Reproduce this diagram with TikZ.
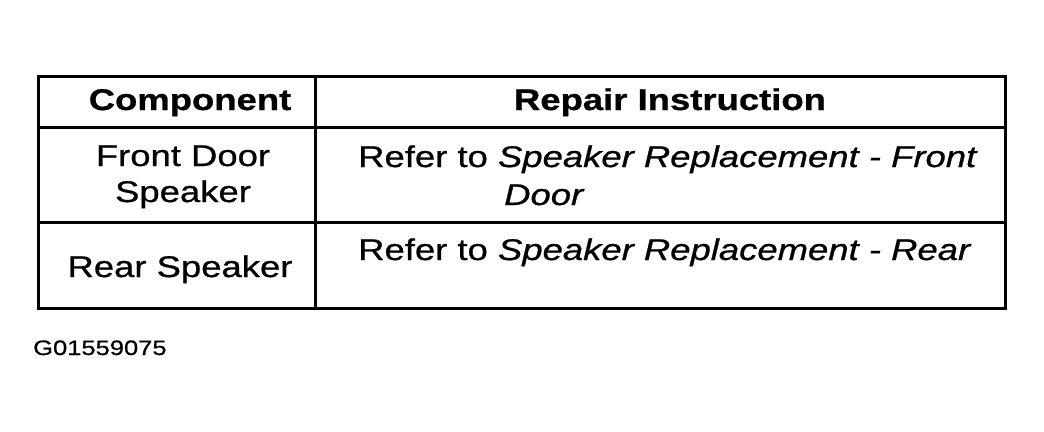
\documentclass[tikz,border=0pt]{standalone}
\usepackage{fontspec}
\setmainfont{Liberation Sans}[FakeStretch=1.22,FakeBold=0.8]
\usetikzlibrary{positioning}

\begin{document}
\begin{tikzpicture}[x=1bp,y=-1bp,
  cell/.style={inner sep=0pt,anchor=base,font=\fontsize{30}{36}\selectfont},
  head/.style={cell,font=\fontsize{30}{36}\selectfont\bfseries},
  rule/.style={line width=3bp}]
  \useasboundingbox (0,0) rectangle (1044,431);

  % table frame
  \draw[rule] (38,76) rectangle (1005,308);
  \draw[rule] (315,76) -- (315,308);
  \draw[rule] (38,127) -- (1005,127);
  \draw[rule] (38,222) -- (1005,222);

  % header row
  \node[head] (comp) at (190,110) {Component};
  \node[head] (repair) at (670,110) {Repair Instruction};

  % front door row
  \node[cell] (front) at (183,166) {Front Door};
  \node[cell] (frontb) at (183,202) {Speaker};
  \node[cell,anchor=base west] (fronttxt) at (358,167) {Refer to \textit{Speaker Replacement - Front}};
  \node[cell,anchor=base west] (fronttxtb) at (504,205) {\textit{Door}};

  % rear row
  \node[cell] (rear) at (180,277) {Rear Speaker};
  \node[cell,anchor=base west] (reartxt) at (358,260) {Refer to \textit{Speaker Replacement - Rear}};

  \node[inner sep=0pt,anchor=base west,font=\fontsize{21}{25}\selectfont] (code) at (33,355) {G01559075};
\end{tikzpicture}
\end{document}
